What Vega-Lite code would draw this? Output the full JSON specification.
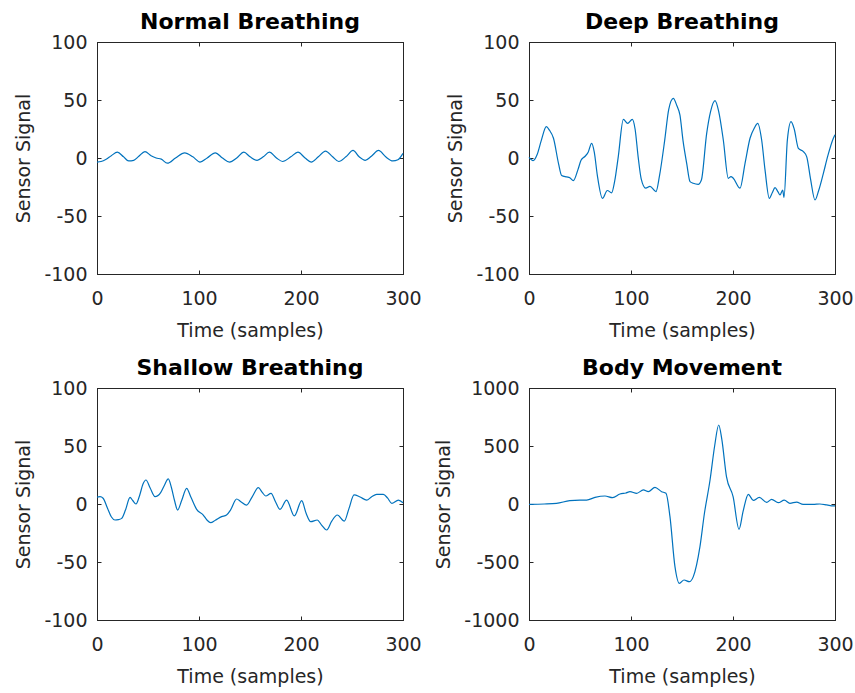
{
"$schema":"https://vega.github.io/schema/vega-lite/v6.json",
"padding":{"left":14,"top":10,"right":5,"bottom":5},
"bounds":"flush",
"spacing":{"row":114,"column":126},
"columns":2,
"datasets":{
"normal":[{"t":0,"v":-3.5},{"t":4,"v":-3},{"t":9,"v":-1},{"t":14,"v":2},{"t":20,"v":5},{"t":26,"v":1},{"t":31,"v":-2.5},{"t":36,"v":-2},{"t":41,"v":1.5},{"t":47,"v":5.5},{"t":53,"v":2},{"t":58,"v":0},{"t":63,"v":-1},{"t":69,"v":-4.5},{"t":77,"v":0},{"t":86,"v":4.5},{"t":94,"v":1},{"t":101,"v":-3.5},{"t":108,"v":0},{"t":116,"v":4.5},{"t":123,"v":0},{"t":130,"v":-3.5},{"t":137,"v":0},{"t":144,"v":5},{"t":150,"v":1},{"t":157,"v":-2},{"t":163,"v":1},{"t":169,"v":5},{"t":176,"v":0},{"t":182,"v":-3},{"t":190,"v":1},{"t":197,"v":5},{"t":204,"v":0},{"t":210,"v":-3.5},{"t":217,"v":1},{"t":224,"v":6},{"t":231,"v":1},{"t":237,"v":-3},{"t":244,"v":1},{"t":251,"v":6.5},{"t":257,"v":1},{"t":263,"v":-2},{"t":269,"v":1.5},{"t":276,"v":6.5},{"t":283,"v":1},{"t":290,"v":-2.5},{"t":295,"v":-1.5},{"t":300,"v":4}],
"deep":[{"t":0,"v":0.5},{"t":4,"v":-2.3},{"t":8,"v":3},{"t":12,"v":15},{"t":17,"v":27},{"t":20,"v":24},{"t":24,"v":17},{"t":29,"v":-5},{"t":32,"v":-15},{"t":37,"v":-16.3},{"t":40,"v":-17},{"t":43.5,"v":-19.5},{"t":48,"v":-10},{"t":51,"v":-2},{"t":55,"v":1.5},{"t":58,"v":5},{"t":61.4,"v":12.6},{"t":64,"v":5},{"t":67,"v":-15},{"t":72,"v":-34.8},{"t":76.8,"v":-28},{"t":81,"v":-30},{"t":84,"v":-20},{"t":87.5,"v":1},{"t":92.5,"v":33.3},{"t":96.7,"v":29.9},{"t":101.3,"v":33.3},{"t":104,"v":25},{"t":107,"v":1},{"t":110,"v":-18},{"t":114.4,"v":-26},{"t":118.6,"v":-24.4},{"t":124.5,"v":-29},{"t":128,"v":-15},{"t":133,"v":15},{"t":137,"v":42},{"t":141.5,"v":51.4},{"t":145,"v":45},{"t":148,"v":37},{"t":151,"v":15},{"t":154.6,"v":-4.6},{"t":157.9,"v":-20.4},{"t":161,"v":-21.8},{"t":165.9,"v":-22.7},{"t":169,"v":-19},{"t":174.2,"v":21.3},{"t":178,"v":40},{"t":182.4,"v":49.4},{"t":186,"v":40},{"t":190.5,"v":15.5},{"t":195.4,"v":-17.5},{"t":198,"v":-16},{"t":200.3,"v":-17.5},{"t":206.9,"v":-26},{"t":211.8,"v":-4.6},{"t":216.7,"v":17},{"t":221,"v":26},{"t":224.2,"v":29.9},{"t":228.1,"v":15.5},{"t":231.4,"v":-10.3},{"t":235.6,"v":-34.8},{"t":238.5,"v":-30},{"t":241.2,"v":-25.6},{"t":244,"v":-29},{"t":246.1,"v":-31.9},{"t":248.7,"v":-27.6},{"t":250,"v":-33.9},{"t":253.3,"v":15.5},{"t":256.9,"v":31.3},{"t":260,"v":25},{"t":264.1,"v":8.3},{"t":269,"v":5.5},{"t":272.3,"v":1},{"t":276,"v":-18},{"t":280.4,"v":-36.2},{"t":284,"v":-28},{"t":288.6,"v":-13.2},{"t":293,"v":2},{"t":298.4,"v":17},{"t":300,"v":20}],
"shallow":[{"t":0,"v":6},{"t":3,"v":6.3},{"t":6,"v":5},{"t":10,"v":-3},{"t":14,"v":-11},{"t":17.6,"v":-13.8},{"t":21,"v":-13.5},{"t":24.2,"v":-12.4},{"t":28,"v":-5},{"t":32.4,"v":5.7},{"t":35,"v":3},{"t":38.2,"v":0},{"t":42,"v":8},{"t":45,"v":17},{"t":48,"v":20.7},{"t":52,"v":14},{"t":56.9,"v":6.3},{"t":62.4,"v":9.8},{"t":66,"v":16},{"t":69.9,"v":21.6},{"t":73,"v":14},{"t":76,"v":3},{"t":79,"v":-5.2},{"t":83,"v":3},{"t":87.9,"v":13.5},{"t":92,"v":6},{"t":97.7,"v":-4.6},{"t":104.2,"v":-9.5},{"t":108,"v":-14},{"t":111.4,"v":-16.1},{"t":116,"v":-14},{"t":122.2,"v":-10.9},{"t":127,"v":-9.5},{"t":131,"v":-5},{"t":136.9,"v":4.3},{"t":141,"v":2},{"t":146.7,"v":-0.9},{"t":152,"v":6},{"t":158.2,"v":14.1},{"t":162,"v":10},{"t":165.4,"v":6.9},{"t":170.6,"v":9.2},{"t":175,"v":2},{"t":179.4,"v":-4.6},{"t":185.9,"v":3.4},{"t":193.5,"v":-10.3},{"t":200.7,"v":2.9},{"t":205,"v":-8},{"t":209.5,"v":-15.2},{"t":216,"v":-13.8},{"t":220,"v":-18},{"t":225.2,"v":-22.4},{"t":230,"v":-15},{"t":235.6,"v":-9.5},{"t":242.5,"v":-14.7},{"t":247,"v":-4},{"t":252,"v":7.8},{"t":258,"v":6},{"t":264.4,"v":3.4},{"t":269,"v":6},{"t":274.2,"v":8.3},{"t":280.7,"v":8.3},{"t":285,"v":5},{"t":289,"v":0.6},{"t":295.5,"v":3.4},{"t":300,"v":1.1}],
"body":[{"t":0,"v":-3},{"t":15,"v":0},{"t":27,"v":6},{"t":40,"v":29},{"t":50,"v":34},{"t":56.5,"v":34},{"t":64.7,"v":57},{"t":74.5,"v":69},{"t":82,"v":55},{"t":89.2,"v":86},{"t":95,"v":95},{"t":99,"v":106},{"t":105.6,"v":92},{"t":112.1,"v":121},{"t":117,"v":106},{"t":123.5,"v":144},{"t":130,"v":106},{"t":134.3,"v":92},{"t":138.2,"v":-109},{"t":143.1,"v":-540},{"t":147.4,"v":-684},{"t":152,"v":-655},{"t":157.2,"v":-670},{"t":161.1,"v":-626},{"t":167.6,"v":-368},{"t":172,"v":-80},{"t":177.5,"v":207},{"t":182,"v":500},{"t":186,"v":681},{"t":189,"v":560},{"t":193.6,"v":236},{"t":200.1,"v":63},{"t":205.9,"v":-218},{"t":210,"v":-60},{"t":215,"v":83},{"t":219.9,"v":31},{"t":225.8,"v":57},{"t":233,"v":14},{"t":237.9,"v":40},{"t":244.4,"v":11},{"t":250.3,"v":34},{"t":255.8,"v":6},{"t":262.3,"v":17},{"t":268.8,"v":-3},{"t":278.6,"v":-3},{"t":285.1,"v":0},{"t":292,"v":-8},{"t":298.2,"v":-17},{"t":300,"v":-17}]
},
"concat":[
{"title":"Normal Breathing","width":306,"height":232,"data":{"name":"normal"},
 "layer":[
  {"mark":{"type":"line","interpolate":"monotone"},"encoding":{"x":{"field":"t","type":"quantitative","scale":{"domain":[0,300],"nice":false},"axis":{"title":"Time (samples)","values":[0,100,200,300]}},"y":{"field":"v","type":"quantitative","scale":{"domain":[-100,100],"nice":false},"axis":{"title":"Sensor Signal","values":[-100,-50,0,50,100]}}}},
  {"mark":{"type":"line","interpolate":"monotone","opacity":0},"encoding":{"x":{"field":"t","type":"quantitative","axis":{"orient":"top","labels":false,"title":null,"minExtent":0,"values":[0,100,200,300]}},"y":{"field":"v","type":"quantitative","axis":{"orient":"right","labels":false,"title":null,"values":[-100,-50,0,50,100]}}}}
 ],
 "resolve":{"axis":{"x":"independent","y":"independent"}}},
{"title":"Deep Breathing","width":306,"height":232,"data":{"name":"deep"},
 "layer":[
  {"mark":{"type":"line","interpolate":"monotone"},"encoding":{"x":{"field":"t","type":"quantitative","scale":{"domain":[0,300],"nice":false},"axis":{"title":"Time (samples)","values":[0,100,200,300]}},"y":{"field":"v","type":"quantitative","scale":{"domain":[-100,100],"nice":false},"axis":{"title":"Sensor Signal","values":[-100,-50,0,50,100]}}}},
  {"mark":{"type":"line","interpolate":"monotone","opacity":0},"encoding":{"x":{"field":"t","type":"quantitative","axis":{"orient":"top","labels":false,"title":null,"minExtent":0,"values":[0,100,200,300]}},"y":{"field":"v","type":"quantitative","axis":{"orient":"right","labels":false,"title":null,"values":[-100,-50,0,50,100]}}}}
 ],
 "resolve":{"axis":{"x":"independent","y":"independent"}}},
{"title":"Shallow Breathing","width":306,"height":232,"data":{"name":"shallow"},
 "layer":[
  {"mark":{"type":"line","interpolate":"monotone"},"encoding":{"x":{"field":"t","type":"quantitative","scale":{"domain":[0,300],"nice":false},"axis":{"title":"Time (samples)","values":[0,100,200,300]}},"y":{"field":"v","type":"quantitative","scale":{"domain":[-100,100],"nice":false},"axis":{"title":"Sensor Signal","values":[-100,-50,0,50,100]}}}},
  {"mark":{"type":"line","interpolate":"monotone","opacity":0},"encoding":{"x":{"field":"t","type":"quantitative","axis":{"orient":"top","labels":false,"title":null,"minExtent":0,"values":[0,100,200,300]}},"y":{"field":"v","type":"quantitative","axis":{"orient":"right","labels":false,"title":null,"values":[-100,-50,0,50,100]}}}}
 ],
 "resolve":{"axis":{"x":"independent","y":"independent"}}},
{"title":"Body Movement","width":306,"height":232,"data":{"name":"body"},
 "layer":[
  {"mark":{"type":"line","interpolate":"monotone"},"encoding":{"x":{"field":"t","type":"quantitative","scale":{"domain":[0,300],"nice":false},"axis":{"title":"Time (samples)","values":[0,100,200,300]}},"y":{"field":"v","type":"quantitative","scale":{"domain":[-1000,1000],"nice":false},"axis":{"title":"Sensor Signal","values":[-1000,-500,0,500,1000]}}}},
  {"mark":{"type":"line","interpolate":"monotone","opacity":0},"encoding":{"x":{"field":"t","type":"quantitative","axis":{"orient":"top","labels":false,"title":null,"minExtent":0,"values":[0,100,200,300]}},"y":{"field":"v","type":"quantitative","axis":{"orient":"right","labels":false,"title":null,"values":[-1000,-500,0,500,1000]}}}}
 ],
 "resolve":{"axis":{"x":"independent","y":"independent"}}}
],
"config":{
 "font":"DejaVu Sans",
 "background":"white",
 "view":{"stroke":"#262626","strokeWidth":1},
 "axis":{"grid":false,"labelFontSize":19,"titleFontSize":19,"labelColor":"#262626","titleColor":"#262626","domainColor":"#262626","tickColor":"#262626","tickSize":-4,"tickWidth":1,"domainWidth":1,"titleFontWeight":"normal","labelExpr":"'' + datum.value","labelFlush":false,"labelOverlap":false},
 "axisX":{"labelPadding":19,"titlePadding":13},
 "axisY":{"labelPadding":14,"titlePadding":10},
 "title":{"fontSize":22,"fontWeight":"bold","color":"#000000","offset":-1},
 "line":{"color":"#0072BD","strokeWidth":1.2}
}
}
